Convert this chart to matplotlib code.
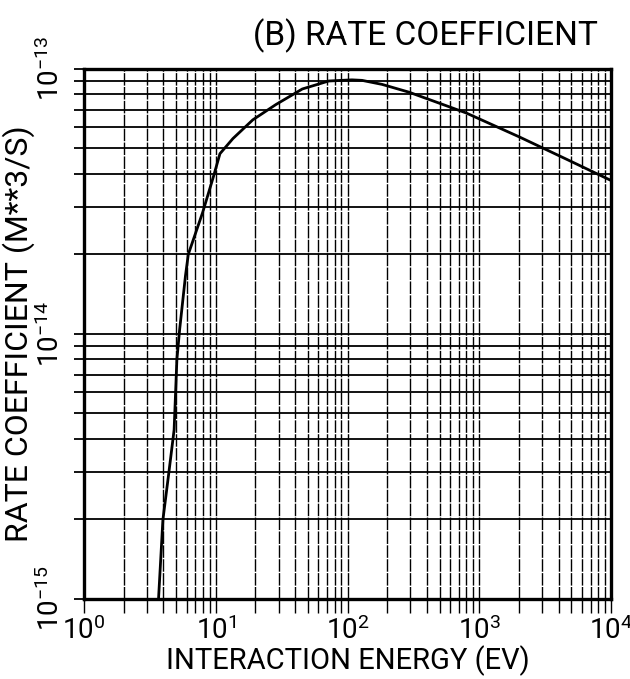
import matplotlib
matplotlib.use("Agg")
import matplotlib.pyplot as plt
from matplotlib.ticker import LogLocator, NullFormatter

# values
energy_ev = [3.68, 3.97, 4.40, 4.83, 5.07, 5.32, 5.89, 6.19, 7.95, 9.65, 10.76, 13.5,
             19.1, 28.6, 45.4, 72.0, 108, 129, 183, 293, 793, 2028, 4620, 10000]
rate_m3s = [1.0e-15, 1.98e-15, 2.97e-15, 4.33e-15, 7.97e-15, 1.035e-14, 1.65e-14, 1.99e-14,
            2.86e-14, 3.94e-14, 4.77e-14, 5.44e-14, 6.4e-14, 7.31e-14, 8.37e-14, 8.97e-14,
            9.06e-14, 9.02e-14, 8.71e-14, 8.14e-14, 6.80e-14, 5.51e-14, 4.54e-14, 3.78e-14]

title = "(B) RATE COEFFICIENT"
xlabel = "INTERACTION ENERGY (EV)"
ylabel = "RATE COEFFICIENT (M**3/S)"

plt.rcParams['font.family'] = ['Roboto', 'DejaVu Sans']
plt.rcParams['mathtext.default'] = 'regular'

fig = plt.figure(figsize=(6.3, 6.79), dpi=100)
ax = fig.add_axes([84 / 630, 1 - 598.5 / 679, 527 / 630, 530 / 679])

ax.plot(energy_ev, rate_m3s, color='black', linewidth=2.0, zorder=3)

ax.set_xscale('log')
ax.set_yscale('log')
ax.set_xlim(1, 1e4)
ax.set_ylim(1e-15, 1e-13)

ax.xaxis.set_major_locator(LogLocator(base=10, numticks=10))
ax.xaxis.set_minor_locator(LogLocator(base=10, subs=range(2, 10), numticks=20))
ax.yaxis.set_major_locator(LogLocator(base=10, numticks=10))
ax.yaxis.set_minor_locator(LogLocator(base=10, subs=range(2, 10), numticks=20))
ax.xaxis.set_minor_formatter(NullFormatter())
ax.yaxis.set_minor_formatter(NullFormatter())

# grid: solid horizontal, broken vertical lines
ax.grid(True, which='both', axis='y', color='black', linewidth=1.3, linestyle='-')
ax.grid(True, which='both', axis='x', color='black', linewidth=1.0, linestyle=(0, (9, 1)))

for s in ax.spines.values():
    s.set_linewidth(2.4)

ax.tick_params(axis='x', which='both', direction='out', length=10, width=1.0, pad=3,
               labelsize=20)
ax.tick_params(axis='y', which='both', direction='out', length=7, width=1.3, pad=7,
               labelsize=20, labelrotation=90)
for lab in ax.get_yticklabels():
    lab.set_va('center')

ax.set_xlabel(xlabel, fontsize=21, labelpad=0)
ax.set_ylabel(ylabel, fontsize=23, labelpad=1)
fig.text(425 / 630, 1 - 36 / 679, title, fontsize=24, ha='center', va='center')

plt.savefig('out.png', dpi=100)
